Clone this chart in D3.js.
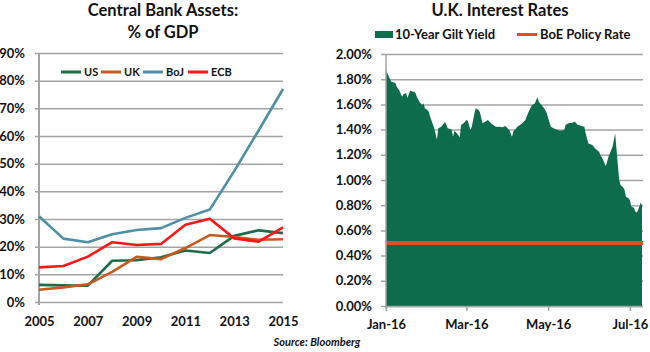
<!DOCTYPE html>
<html>
<head>
<meta charset="utf-8">
<script src="https://cdn.jsdelivr.net/npm/d3@7"></script>
<style>
  body { margin: 0; background: #fff; }
  svg text { font-family: Lato, "Open Sans", sans-serif; font-weight: bold; fill: #111; }
</style>
</head>
<body>
<svg id="chart" width="650" height="352"></svg>
<script>
// ---- left chart data: central bank assets, % of GDP ----
const years = [2005, 2006, 2007, 2008, 2009, 2010, 2011, 2012, 2013, 2014, 2015];
const usAssets  = [6.2, 6.0, 5.9, 14.9, 15.1, 16.2, 18.6, 17.7, 23.9, 25.9, 24.9];
const ukAssets  = [4.4, 5.3, 6.4, 10.9, 16.3, 15.5, 19.5, 24.2, 23.5, 22.5, 22.7];
const bojAssets = [31.0, 22.9, 21.6, 24.5, 26.0, 26.7, 30.4, 33.4, 47.3, 62.0, 77.0];
const ecbAssets = [12.5, 13.0, 16.4, 21.6, 20.6, 21.0, 27.9, 30.1, 23.0, 21.8, 27.0];
const leftTicksY = [0, 10, 20, 30, 40, 50, 60, 70, 80, 90];
const leftTicksX = [2005, 2007, 2009, 2011, 2013, 2015];

// ---- right chart data: UK 10y gilt yield (%) ----
const giltDates = [
  '2016-01-01','2016-01-02','2016-01-04','2016-01-05','2016-01-08','2016-01-09','2016-01-11','2016-01-13',
  '2016-01-14','2016-01-16','2016-01-17','2016-01-19','2016-01-21','2016-01-22','2016-01-23','2016-01-24',
  '2016-01-26','2016-01-28','2016-01-29','2016-01-30','2016-02-01','2016-02-02','2016-02-03','2016-02-05',
  '2016-02-06','2016-02-08','2016-02-09','2016-02-11','2016-02-14','2016-02-15','2016-02-16','2016-02-19',
  '2016-02-20','2016-02-21','2016-02-23','2016-02-25','2016-02-26','2016-02-28','2016-03-01','2016-03-02',
  '2016-03-04','2016-03-05','2016-03-07','2016-03-08','2016-03-10','2016-03-11','2016-03-13','2016-03-15',
  '2016-03-17','2016-03-19','2016-03-20','2016-03-23','2016-03-25','2016-03-28','2016-03-30','2016-04-02',
  '2016-04-04','2016-04-05','2016-04-08','2016-04-10','2016-04-12','2016-04-14','2016-04-15','2016-04-17',
  '2016-04-19','2016-04-21','2016-04-23','2016-04-24','2016-04-26','2016-04-28','2016-04-30','2016-05-01',
  '2016-05-03','2016-05-05','2016-05-08','2016-05-10','2016-05-13','2016-05-14','2016-05-16','2016-05-19',
  '2016-05-21','2016-05-23','2016-05-24','2016-05-26','2016-05-28','2016-05-29','2016-05-31','2016-06-03',
  '2016-06-05','2016-06-08','2016-06-09','2016-06-11','2016-06-13','2016-06-15','2016-06-18','2016-06-20',
  '2016-06-21','2016-06-22','2016-06-23','2016-06-24','2016-06-26','2016-06-27','2016-06-28','2016-06-30',
  '2016-07-01','2016-07-02','2016-07-04','2016-07-05','2016-07-06','2016-07-07','2016-07-09','2016-07-10'
];
const giltYield = [
  1.87, 1.85, 1.80, 1.78, 1.77, 1.74, 1.71, 1.66,
  1.68, 1.69, 1.65, 1.71, 1.70, 1.70, 1.69, 1.66,
  1.62, 1.595, 1.61, 1.57, 1.556, 1.54, 1.50, 1.44,
  1.41, 1.32, 1.41, 1.42, 1.46, 1.44, 1.41, 1.40,
  1.344, 1.39, 1.37, 1.34, 1.437, 1.45, 1.476, 1.47,
  1.397, 1.423, 1.53, 1.57, 1.556, 1.54, 1.45, 1.463,
  1.476, 1.455, 1.444, 1.423, 1.423, 1.418, 1.429, 1.397,
  1.344, 1.384, 1.423, 1.437, 1.455, 1.476, 1.503, 1.556,
  1.595, 1.608, 1.656, 1.621, 1.595, 1.569, 1.529, 1.49,
  1.423, 1.41, 1.397, 1.391, 1.397, 1.437, 1.45, 1.455,
  1.463, 1.437, 1.437, 1.429, 1.423, 1.37, 1.29, 1.278,
  1.25, 1.225, 1.198, 1.159, 1.11, 1.185, 1.264, 1.37,
  1.24, 1.12, 1.00, 0.96, 0.94, 0.92, 0.868, 0.855,
  0.84, 0.79, 0.78, 0.75, 0.74, 0.76, 0.82, 0.80
];
const policyRate = 0.5;
const rightTicksY = [0, 0.2, 0.4, 0.6, 0.8, 1.0, 1.2, 1.4, 1.6, 1.8, 2.0];
const rightTicksX = ['2016-01-01', '2016-03-01', '2016-05-01', '2016-07-01'];

const gridColor = '#a3a3a3';
const colors = { US: '#1e6b47', UK: '#c65a1e', BoJ: '#4f8fa6', ECB: '#ff1616' };

const svg = d3.select('#chart');

// ================= LEFT CHART =================
const xL = d3.scaleLinear().domain([2005, 2015]).range([39, 283]);
const yL = d3.scaleLinear().domain([0, 90]).range([302, 53]);

svg.append('text').attr('x', 163).attr('y', 16).attr('text-anchor', 'middle')
  .attr('font-size', '16.5px').text('Central Bank Assets:');
svg.append('text').attr('x', 163).attr('y', 38).attr('text-anchor', 'middle')
  .attr('font-size', '16.5px').text('% of GDP');

const yAxisL = d3.axisLeft(yL).tickValues(leftTicksY)
  .tickSize(-(283 - 35)).tickSizeOuter(0).tickPadding(10)
  .tickFormat(d => d + '%');
const gyL = svg.append('g').attr('transform', 'translate(35,0)').call(yAxisL);
gyL.select('.domain').remove();
gyL.selectAll('line').attr('stroke', gridColor).attr('stroke-width', 1.5);
gyL.selectAll('text').attr('font-size', '13px').attr('fill', '#111');

svg.append('line').attr('x1', 39).attr('x2', 39).attr('y1', 53).attr('y2', 305)
  .attr('stroke', gridColor).attr('stroke-width', 2);

const xAxisL = d3.axisBottom(xL).tickValues(leftTicksX).tickSize(0).tickPadding(15)
  .tickFormat(d3.format('d'));
const gxL = svg.append('g').attr('transform', 'translate(0,302)').call(xAxisL);
gxL.select('.domain').remove();
gxL.selectAll('text').attr('font-size', '13px').attr('fill', '#111');

const seriesL = [
  { name: 'US', values: usAssets },
  { name: 'UK', values: ukAssets },
  { name: 'BoJ', values: bojAssets },
  { name: 'ECB', values: ecbAssets }
];
const lineL = d3.line().x((d, i) => xL(years[i])).y(d => yL(d));
svg.append('g').selectAll('path').data(seriesL).join('path')
  .attr('d', d => lineL(d.values))
  .attr('fill', 'none')
  .attr('stroke', d => colors[d.name])
  .attr('stroke-width', 2.6)
  .attr('stroke-linejoin', 'round');

// legend
const legendPos = [61, 101, 143, 188];
const legL = svg.append('g');
seriesL.forEach((s, i) => {
  const g = legL.append('g').attr('transform', `translate(${legendPos[i]},72)`);
  g.append('line').attr('x1', 0).attr('x2', 20).attr('stroke', colors[s.name]).attr('stroke-width', 3);
  g.append('text').attr('x', 23).attr('y', 4).attr('font-size', '11px').text(s.name);
});

// ================= RIGHT CHART =================
const parse = d3.timeParse('%Y-%m-%d');
const gilt = giltDates.map((d, i) => ({ date: parse(d), v: giltYield[i] }));
const xR = d3.scaleTime().domain([parse('2016-01-01'), parse('2016-07-10')]).range([386, 642]);
const yR = d3.scaleLinear().domain([0, 2]).range([306, 54]);

svg.append('text').attr('x', 500).attr('y', 16).attr('text-anchor', 'middle')
  .attr('font-size', '16.5px').text('U.K. Interest Rates');

const yAxisR = d3.axisLeft(yR).tickValues(rightTicksY)
  .tickSize(-(643 - 381)).tickSizeOuter(0).tickPadding(9)
  .tickFormat(d => d3.format('.2f')(d) + '%');
const gyR = svg.append('g').attr('transform', 'translate(381,0)').call(yAxisR);
gyR.select('.domain').remove();
gyR.selectAll('line').attr('stroke', gridColor).attr('stroke-width', 1.5);
gyR.selectAll('text').attr('font-size', '13px').attr('fill', '#111');

// gilt area
const areaR = d3.area().x(d => xR(d.date)).y0(yR(0)).y1(d => yR(d.v));
svg.append('path').datum(gilt).attr('d', areaR).attr('fill', '#0d6c4c');

// policy rate
svg.append('line')
  .attr('x1', xR(parse('2016-01-01'))).attr('x2', xR(parse('2016-07-10')) + 1)
  .attr('y1', yR(policyRate)).attr('y2', yR(policyRate))
  .attr('stroke', '#d9531e').attr('stroke-width', 4);

const xAxisR = d3.axisBottom(xR).tickValues(rightTicksX.map(parse))
  .tickSize(5).tickSizeOuter(0).tickPadding(9)
  .tickFormat(d3.timeFormat('%b-%y'));
const gxR = svg.append('g').attr('transform', 'translate(0,306)').call(xAxisR);
gxR.select('.domain').attr('stroke', gridColor).attr('stroke-width', 1.5);
gxR.selectAll('line').attr('stroke', gridColor).attr('stroke-width', 1.5);
gxR.selectAll('text').attr('font-size', '13px').attr('fill', '#111');

svg.append('line').attr('x1', 386).attr('x2', 386).attr('y1', 54).attr('y2', 309)
  .attr('stroke', gridColor).attr('stroke-width', 1.5);

// legend
svg.append('rect').attr('x', 375).attr('y', 31).attr('width', 18).attr('height', 7).attr('fill', '#0d6c4c');
svg.append('text').attr('x', 395).attr('y', 39).attr('font-size', '13px').text('10-Year Gilt Yield');
svg.append('line').attr('x1', 517).attr('x2', 537).attr('y1', 34.5).attr('y2', 34.5)
  .attr('stroke', '#d9531e').attr('stroke-width', 3);
svg.append('text').attr('x', 540).attr('y', 39).attr('font-size', '13px').text('BoE Policy Rate');

// source
svg.append('text').attr('x', 317).attr('y', 346).attr('text-anchor', 'middle')
  .attr('font-size', '11px').attr('font-style', 'italic').text('Source: Bloomberg');
</script>
</body>
</html>
